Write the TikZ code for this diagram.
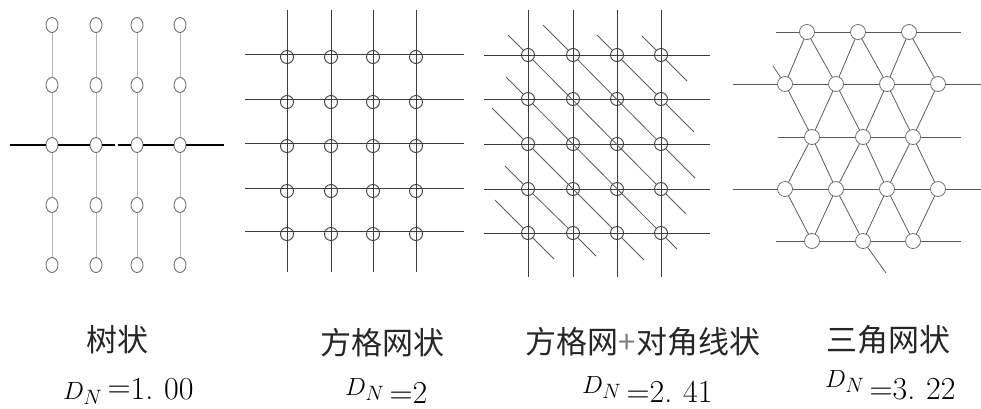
\documentclass[tikz,border=0pt]{standalone}
\usepackage{fontspec}
\newfontfamily\cjk{Noto Sans CJK SC}
\usetikzlibrary{calc}
\definecolor{treegray}{HTML}{B4B4B4}
\definecolor{nodegray}{HTML}{707070}
\definecolor{gridgray}{HTML}{3C3C3C}
\definecolor{diaggray}{HTML}{5A5A5A}
\tikzset{
  treenode/.style={ellipse, draw=nodegray, fill=white, line width=0.9pt,
    minimum width=12pt, minimum height=15pt, inner sep=0pt},
  gridnode/.style={circle, draw=gridgray, line width=0.9pt,
    minimum size=13pt, inner sep=0pt},
  trinode/.style={circle, draw=nodegray, fill=white, line width=0.8pt,
    minimum size=15pt, inner sep=0pt},
  gridline/.style={gridgray, line width=0.9pt},
  title/.style={font=\cjk\fontsize{31}{34}\selectfont, text=black!85},
  value/.style={anchor=base west, inner sep=0pt, font=\fontsize{32}{36}\selectfont},
}
\usetikzlibrary{shapes.geometric}
\begin{document}
\begin{tikzpicture}[x=1pt, y=-1pt]
  \useasboundingbox (0,0) rectangle (981,408);

  % tree
  \foreach \i/\x in {1/52,2/96,3/137,4/180}
    \foreach \j/\y in {1/25,2/85,3/145,4/205,5/265}
      \node[treenode] (t\i\j) at (\x,\y) {};
  \foreach \i in {1,2,3,4}
    \draw[treegray, line width=1pt] (t\i1) -- (t\i2) (t\i2) -- (t\i3)
      (t\i3) -- (t\i4) (t\i4) -- (t\i5);
  \coordinate (tl) at (10,145);
  \coordinate (tg1) at (115,145);
  \coordinate (tg2) at (118,145);
  \coordinate (tr) at (224,145);
  \draw[line width=1.6pt] (tl) -- (t13) (t13) -- (t23) (t23) -- (tg1)
    (tg2) -- (t33) (t33) -- (t43) (t43) -- (tr);

  % square grid
  \foreach \i/\x in {1/287,2/331,3/373,4/416} {
    \coordinate (gt\i) at (\x,10);
    \coordinate (gb\i) at (\x,272);
    \draw[gridline] (gt\i) -- (gb\i);
  }
  \foreach \j/\y in {1/54,2/99,3/143,4/188,5/231} {
    \coordinate (gl\j) at (245,\y);
    \coordinate (gr\j) at (464,\y);
    \draw[gridline] (gl\j) -- (gr\j);
    \foreach \i/\x in {1/287,2/331,3/373,4/416}
      \node[gridnode] (g\i\j) at (\x,\y+3) {};
  }

  % square grid with diagonals
  \foreach \i/\x in {1/528,2/573,3/617,4/661} {
    \coordinate (dt\i) at (\x,10);
    \coordinate (db\i) at (\x,277);
    \draw[gridline] (dt\i) -- (db\i);
  }
  \foreach \j/\y in {1/55,2/99,3/144,4/189,5/233} {
    \coordinate (dl\j) at (484,\y);
    \coordinate (dr\j) at (710,\y);
    \draw[gridline] (dl\j) -- (dr\j);
    \foreach \i/\x in {1/528,2/573,3/617,4/661}
      \node[gridnode] (d\i\j) at (\x,\y) {};
  }
  \foreach \a/\b/\s/\e in {11/44/20/25, 21/43/30/34, 31/42/20/33, 41/41/19/26,
      12/45/22/16, 13/35/36/27, 14/25/23/23, 15/15/33/26}
    \draw[diaggray, line width=0.8pt] ($(d\a)+(-\s,-\s)$) -- (d\a) -- (d\b)
      -- ($(d\b)+(\e,\e)$);

  % triangular net
  \foreach \j/\y/\xs in {1/32/{807,858,909}, 2/84/{785,836,887,938},
      3/137/{812,863,913}, 4/189/{785,836,887,938}, 5/241/{812,863,913}}
    \foreach \x [count=\i] in \xs
      \coordinate (p\j\i) at (\x,\y);
  \coordinate (hl1) at (776,32);  \coordinate (hr1) at (961,32);
  \coordinate (hl2) at (733,84);  \coordinate (hr2) at (981,84);
  \coordinate (hl3) at (778,137); \coordinate (hr3) at (961,137);
  \coordinate (hl4) at (733,189); \coordinate (hr4) at (981,189);
  \coordinate (hl5) at (776,241); \coordinate (hr5) at (961,241);
  \foreach \j in {1,...,5}
    \draw[diaggray, line width=0.8pt] (hl\j) -- (hr\j);
  \foreach \j/\n in {1/3,2/4,3/3,4/4,5/3}
    \foreach \i in {1,...,\n}
      \node[trinode] (r\j\i) at (p\j\i) {};
  \foreach \o/\e in {1/2,3/2,3/4,5/4}
    \foreach \i/\k in {1/2,2/3,3/4}
      \draw[diaggray, line width=0.8pt] (r\o\i) -- (r\e\i) (r\o\i) -- (r\e\k);
  \coordinate (s1) at (773,66);
  \coordinate (s2) at (886,273);
  \draw[diaggray, line width=0.8pt] (r21) -- (s1) (r52) -- (s2);

  % labels
  \node[title] (n1) at (117,340) {树状};
  \node[title] (n2) at (382,343) {方格网状};
  \node[title] (n3) at (643,342) {方格网{\color{gray}+}对角线状};
  \node[title] (n4) at (888,340) {三角网状};
  \node[value] (v1) at (63,399) {$D_{N}$\,\raisebox{2pt}{=}1.\,\,00};
  \node[value] (v2) at (345,395) {$D_{N}$\raisebox{-8pt}{\,=2}};
  \node[value] (v3) at (582,393) {$D_{N}$\raisebox{-9pt}{\,=2.\,\,41}};
  \node[value] (v4) at (825,387) {$D_{N}$\raisebox{-12pt}{\,=3.\,\,22}};
\end{tikzpicture}
\end{document}
